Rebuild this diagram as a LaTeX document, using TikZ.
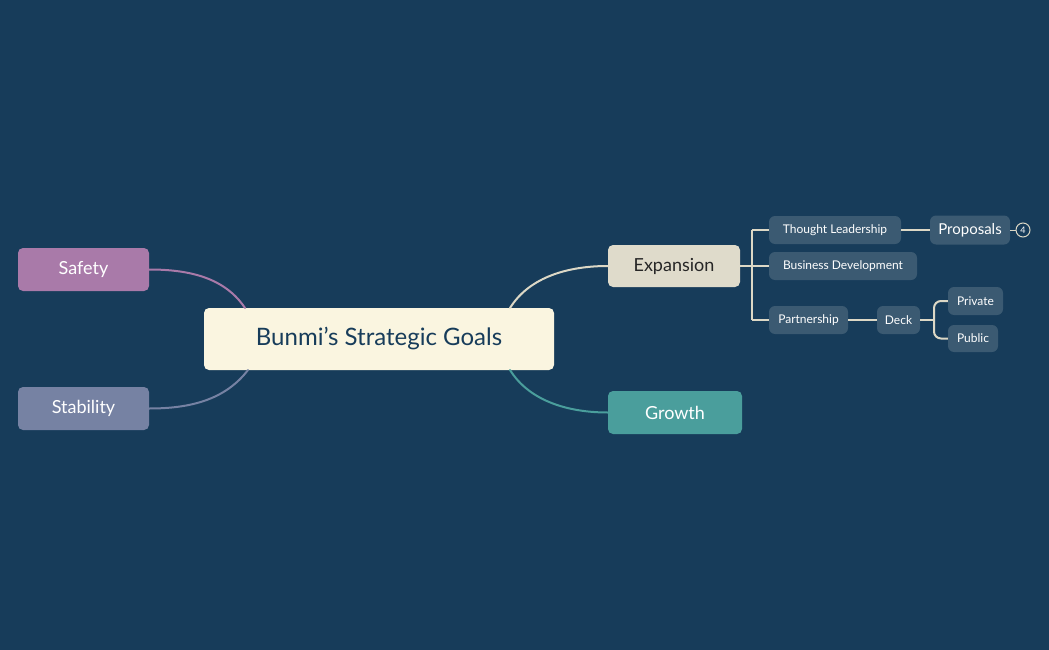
\documentclass[tikz,border=0pt]{standalone}
\usepackage{fontspec}
\setmainfont{Lato}
\definecolor{bg}{HTML}{173C5A}
\definecolor{cream}{HTML}{FAF5E0}
\definecolor{saf}{HTML}{A97AA9}
\definecolor{stab}{HTML}{7682A3}
\definecolor{exp}{HTML}{DFDBCB}
\definecolor{gro}{HTML}{4A9E9C}
\definecolor{sub}{HTML}{3B5A72}
\definecolor{line}{HTML}{DCD8C6}
\begin{document}
\begin{tikzpicture}[x=1pt,y=-1pt,
  box/.style={rounded corners=5pt,inner sep=0pt,text=white},
  subbox/.style={box,fill=sub,rounded corners=6pt,minimum height=28pt,font=\fontsize{12}{12}\selectfont},
  conn/.style={line width=2pt,line cap=round}]
\fill[bg] (0,0) rectangle (1049,650);
\node[box,fill=cream,text=bg,minimum width=350pt,minimum height=62pt,font=\fontsize{24}{24}\selectfont] (c) at (379,339) {Bunmi's Strategic Goals};
\node[box,fill=saf,minimum width=131pt,minimum height=43pt,font=\fontsize{18}{18}\selectfont] (saf) at (83.5,269.5) {Safety};
\node[box,fill=stab,minimum width=131pt,minimum height=43pt,font=\fontsize{18}{18}\selectfont] (stab) at (83.5,408.5) {Stability};
\node[box,fill=exp,text=black!85,minimum width=132pt,minimum height=42pt,font=\fontsize{18}{18}\selectfont] (exp) at (674,266) {Expansion};
\node[box,fill=gro,minimum width=134pt,minimum height=43pt,font=\fontsize{18}{18}\selectfont] (gro) at (675,412.5) {Growth};
\node[subbox,minimum width=132pt] (tl) at (835,230) {Thought Leadership};
\node[subbox,minimum width=148pt] (bd) at (843,266) {Business Development};
\node[subbox,minimum width=79pt] (pa) at (808.5,320) {Partnership};
\node[subbox,minimum width=80pt,minimum height=29pt,font=\fontsize{15}{15}\selectfont] (pr) at (970,230) {Proposals};
\node[circle,draw=line,line width=1pt,minimum size=14pt,inner sep=0pt,text=white,font=\fontsize{9}{9}\selectfont] (n4) at (1023,230) {4};
\node[subbox,minimum width=43pt] (dk) at (898.5,320) {Deck};
\node[subbox,minimum width=55pt] (pv) at (975.5,301) {Private};
\node[subbox,minimum width=50pt,minimum height=27pt] (pu) at (973,338.5) {Public};
\coordinate (cs) at (245,308);
\coordinate (cst) at (248,370);
\coordinate (ce) at (510,308);
\coordinate (cg) at (510,370);
\draw[conn,draw=saf] (cs) .. controls (225,278) and (190,269.5) .. (saf.east);
\draw[conn,draw=stab] (cst) .. controls (225,400) and (190,408.5) .. (stab.east);
\draw[conn,draw=line] (ce) .. controls (530,276) and (570,266) .. (exp.west);
\draw[conn,draw=gro] (cg) .. controls (530,402) and (570,412.5) .. (gro.west);
\coordinate (j) at (752,266);
\draw[conn,draw=line,line cap=butt] (exp.east) -- (j) (752,230) -- (752,320);
\draw[conn,draw=line,line cap=butt] (752,230) -- (tl.west) (j) -- (bd.west) (752,320) -- (pa.west);
\draw[conn,draw=line,line cap=butt] (tl.east) -- (pr.west) (pa.east) -- (dk.west);
\draw[line width=1pt,draw=line] (pr.east) -- (n4.west);
\coordinate (k) at (934,320);
\draw[conn,draw=line,line cap=butt] (dk.east) -- (k);
\draw[conn,draw=line,line cap=butt,rounded corners=7pt] (pv.west) -- (934,301) -- (934,338.5) -- (pu.west);
\end{tikzpicture}
\end{document}
